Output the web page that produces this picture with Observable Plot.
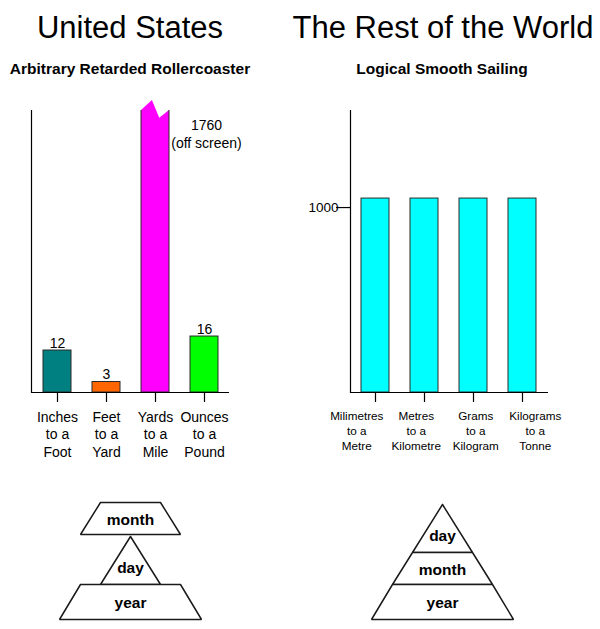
<!DOCTYPE html>
<html><head><meta charset="utf-8">
<script src="https://cdn.jsdelivr.net/npm/d3@7"></script>
<script src="https://cdn.jsdelivr.net/npm/@observablehq/plot@0.6"></script>
<style>
body{margin:0;background:#fff;}
#root{position:relative;width:600px;height:629px;font-family:"Liberation Sans",Arial,sans-serif;color:#000;overflow:hidden;background:#fff}
.t{position:absolute;text-align:center;white-space:nowrap;margin:0;line-height:1}
.h1{font-size:31px;font-weight:normal}
.h2{font-size:15.5px;font-weight:bold}
</style></head><body><div id="root"></div>
<script>
// ---- data ----
const titles = ["United States", "The Rest of the World"];
const subtitles = ["Arbitrary Retarded Rollercoaster", "Logical Smooth Sailing"];

const usUnits = ["Inches\nto a\nFoot", "Feet\nto a\nYard", "Yards\nto a\nMile", "Ounces\nto a\nPound"];
const usValues = [12, 3, 1760, 16];
const usColors = ["#008080", "#ff6600", "#ff00ff", "#00ff00"];
const usLabels = ["12", "3", "1760\n(off screen)", "16"];
const usAxisMax = 80.6;

const siUnits = ["Milimetres\nto a\nMetre", "Metres\nto a\nKilometre", "Grams\nto a\nKilogram", "Kilograms\nto a\nTonne"];
const siValues = [1000, 1000, 1000, 1000];
const siColor = "#00ffff";
const siTicks = [1000];
const siAxisMax = 1454;

const layerNames = ["day", "month", "year"];
const layerWidthTop = [0, 60, 100];
const layerWidthBottom = [60, 100, 142];
const layerHeights = [48, 32, 35];
const usOrder = ["month", "day", "year"];
const usGaps = [0, 2, 0];
const siOrder = ["day", "month", "year"];
const siGaps = [0, 0, 0];

// ---- layout helpers ----
const root = document.getElementById("root");
function addText(txt, cls, cx, top, w) {
  const d = document.createElement("div");
  d.className = "t " + cls;
  d.textContent = txt;
  d.style.left = (cx - w / 2) + "px";
  d.style.width = w + "px";
  d.style.top = top + "px";
  root.appendChild(d);
}
function place(svg, left, top) {
  svg.style.position = "absolute";
  svg.style.left = left + "px";
  svg.style.top = top + "px";
  root.appendChild(svg);
}
const font = "Liberation Sans, Arial, sans-serif";
const OUT = "#2a2a2a";

addText(titles[0], "h1", 130, 11.8, 280);
addText(titles[1], "h1", 443, 11.8, 330);
addText(subtitles[0], "h2", 130, 60.9, 280);
addText(subtitles[1], "h2", 442, 60.9, 280);

// torn-top renderer for the off-screen bar
function tornTop(index, scales, values, dims, context, next) {
  const g = next(index, scales, values, dims, context);
  const top = dims.marginTop;
  d3.select(g).selectAll("rect").each(function () {
    const r = d3.select(this);
    const x = +r.attr("x"), w = +r.attr("width");
    const y = +r.attr("y"), h = +r.attr("height");
    const base = y + h;
    const parent = this.parentNode;
    const p = d3.create("svg:path")
      .attr("d", `M${x},${base}V${top}L${x + 0.39 * w},${top - 10}L${x + 0.65 * w},${top + 7.7}L${x + w},${top}V${base}Z`)
      .attr("stroke", "none");
    if (r.attr("fill")) p.attr("fill", r.attr("fill"));
    const s = d3.create("svg:path").attr("fill", "none").attr("stroke", OUT).attr("stroke-width", 1)
      .attr("d", `M${x},${top}V${base}H${x + w}V${top}`);
    parent.insertBefore(p.node(), this);
    parent.insertBefore(s.node(), this);
    r.remove();
  });
  return g;
}

// ---- US chart ----
const usData = usUnits.map((u, i) => ({unit: u, value: usValues[i], color: usColors[i], label: usLabels[i]}));
const usOn = usData.filter(d => d.value <= usAxisMax);
const usOff = usData.filter(d => d.value > usAxisMax);

const usChart = Plot.plot({
  width: 300, height: 380,
  marginLeft: 31, marginRight: 71, marginTop: 20, marginBottom: 78,
  x: {domain: usUnits, paddingInner: 0.43, paddingOuter: 0.215},
  y: {domain: [0, usAxisMax], axis: null},
  color: {type: "identity"},
  style: {fontFamily: font, fontSize: "14px", background: "transparent", overflow: "visible"},
  marks: [
    Plot.barY(usOn, {x: "unit", y: "value", fill: "color", stroke: OUT, strokeWidth: 1}),
    Plot.barY(usOff, {x: "unit", y: "value", fill: "color", render: tornTop}),
    Plot.text(usOn, {x: "unit", y: "value", text: "label", lineAnchor: "bottom", dy: -3, fontSize: 14}),
    Plot.text(usOff, {x: "unit", frameAnchor: "top", text: "label", lineAnchor: "top", dx: 51, dy: 7.5, lineHeight: 1.25, fontSize: 14}),
    Plot.frame({anchor: "left", stroke: "#000", strokeWidth: 1.2}),
    Plot.ruleY([0], {stroke: "#000", strokeWidth: 1.2}),
    Plot.axisX({tickSize: 10, tickPadding: 7, fontSize: 14, lineHeight: 1.25, label: null, tickFormat: d => d, strokeWidth: 1.2})
  ]
});
place(usChart, 0, 90);

// ---- SI chart ----
const siData = siUnits.map((u, i) => ({unit: u, value: siValues[i]}));
const siChart = Plot.plot({
  width: 300, height: 380,
  marginLeft: 50, marginRight: 52, marginTop: 20, marginBottom: 78,
  x: {domain: siUnits, paddingInner: 0.42, paddingOuter: 0.21},
  y: {domain: [0, siAxisMax]},
  style: {fontFamily: font, fontSize: "12px", background: "transparent", overflow: "visible"},
  marks: [
    Plot.barY(siData, {x: "unit", y: "value", fill: siColor, stroke: OUT, strokeWidth: 1}),
    Plot.frame({anchor: "left", stroke: "#000", strokeWidth: 1.2}),
    Plot.ruleY([0], {stroke: "#000", strokeWidth: 1.2}),
    Plot.axisY({ticks: siTicks, tickSize: 14, tickPadding: -2, dy: 9, fontSize: 13.5, label: null, tickFormat: d => String(d), strokeWidth: 1.2}),
    Plot.axisX({tickSize: 10, label: null, tickFormat: () => "", strokeWidth: 1.2}),
    // tick labels, spread slightly wider than the ticks as in the original
    ...siUnits.map((u, i) => Plot.text([u], {
      x: d => d, frameAnchor: "bottom", lineAnchor: "top", dy: 17, dx: (i - 1.5) * 10.5 - 3,
      fontSize: 11.7, lineHeight: 1.28
    }))
  ]
});
place(siChart, 300, 90);

// ---- pyramids ----
function pyramid(order, gaps, center, topPx) {
  const pts = [], labels = [];
  let y = 0;
  order.forEach((name, k) => {
    const i = layerNames.indexOf(name);
    y += gaps[k];
    const wt = layerWidthTop[i], wb = layerWidthBottom[i], h = layerHeights[i];
    const y0 = y, y1 = y + h;
    [[-wt / 2, y0], [wt / 2, y0], [wb / 2, y1], [-wb / 2, y1], [-wt / 2, y0]]
      .forEach(([px, py]) => pts.push({layer: name, x: px, y: py}));
    const cy = y0 + h * (wt + 2 * wb) / (3 * (wt + wb));
    labels.push({name, x: 0, y: cy});
    y = y1;
  });
  const total = y;
  const svgTop = 490, H = 139;
  return Plot.plot({
    width: 300, height: H, margin: 0,
    x: {domain: [-center, 300 - center], range: [0, 300], axis: null},
    y: {domain: [0, total], range: [topPx - svgTop, topPx - svgTop + total], axis: null},
    style: {fontFamily: font, background: "transparent", overflow: "visible"},
    marks: [
      Plot.line(pts, {x: "x", y: "y", z: "layer", fill: "#fff", stroke: "#1a1a1a", strokeWidth: 1.5, strokeLinejoin: "miter"}),
      Plot.text(labels, {x: "x", y: "y", text: "name", fontWeight: "bold", fontSize: 15.5})
    ]
  });
}
place(pyramid(usOrder, usGaps, 130, 502), 0, 490);
place(pyramid(siOrder, siGaps, 142, 504), 300, 490);
</script></body></html>
